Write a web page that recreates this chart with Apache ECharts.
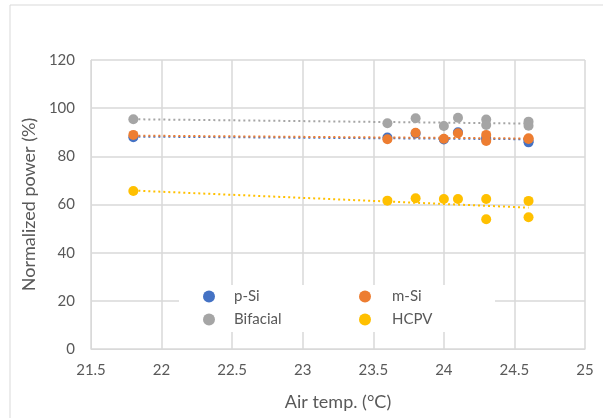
<!DOCTYPE html>
<html>
<head>
<meta charset="UTF-8">
<script src="https://cdn.jsdelivr.net/npm/echarts@6/dist/echarts.min.js"></script>
<style>
html, body { margin: 0; padding: 0; background: #fff; }
#chart { width: 603px; height: 418px; }
</style>
</head>
<body>
<div id="chart"></div>
<script>
// values
var temps     = [21.8, 23.6, 23.8, 24.0, 24.1, 24.3, 24.3, 24.6, 24.6];
var pSi       = [87.9, 87.8, 89.5, 87.0, 90.0, 87.6, 87.0, 85.8, 86.4];
var mSi       = [88.9, 87.1, 89.8, 87.3, 89.6, 88.9, 86.4, 87.5, 87.2];
var bifacial  = [95.4, 93.7, 95.8, 92.6, 96.0, 95.3, 93.0, 94.4, 92.7];
var hcpv      = [65.6, 61.6, 62.6, 62.3, 62.3, 62.3, 53.9, 61.5, 54.7];

// dotted trend lines, end points
var trendX        = [21.8, 24.6];
var trendPSi      = [88.2, 87.1];
var trendMSi      = [88.6, 87.4];
var trendBifacial = [95.4, 93.6];
var trendHcpv     = [65.8, 58.7];

var xTicks = [21.5, 25, 0.5];   // min, max, step
var yTicks = [0, 120, 20];

var colors = { pSi: '#4472C4', mSi: '#ED7D31', bif: '#A5A5A5', hcpv: '#FFC000' };
var txt = '#595959';
var font = 'Lato, "Open Sans", sans-serif';

function pts(xs, ys) {
    var out = [];
    for (var i = 0; i < xs.length; i++) out.push([xs[i], ys[i]]);
    return out;
}
function scatter(name, ys, color) {
    return { name: name, type: 'scatter', data: pts(temps, ys), symbolSize: 10,
             itemStyle: { color: color, opacity: 1 }, z: 3 };
}
function trend(ys, color) {
    return { type: 'line', data: pts(trendX, ys), symbol: 'none', silent: true,
             lineStyle: { color: color, width: 2, type: [2, 3] }, z: 2 };
}

var chart = echarts.init(document.getElementById('chart'));
var option = {
    animation: false,
    textStyle: { fontFamily: font },
    grid: { left: 91, right: 18, top: 60, bottom: 69 },
    graphic: [
        { type: 'rect', shape: { x: 10, y: 5, width: 620, height: 440 },
          style: { fill: 'none', stroke: '#D9D9D9', lineWidth: 1 }, z: 0 },
        { type: 'rect', shape: { x: 179, y: 285, width: 316, height: 47 },
          style: { fill: '#fff' }, z: 50 }
    ],
    legend: [
        { data: ['p-Si', 'Bifacial'], orient: 'vertical', left: 198, top: 284,
          itemGap: 8, itemWidth: 12, itemHeight: 12, icon: 'circle', z: 60,
          textStyle: { color: txt, fontSize: 15, fontFamily: font, padding: [0, 0, 0, 14] } },
        { data: ['m-Si', 'HCPV'], orient: 'vertical', left: 354, top: 284,
          itemGap: 8, itemWidth: 12, itemHeight: 12, icon: 'circle', z: 60,
          textStyle: { color: txt, fontSize: 15, fontFamily: font, padding: [0, 0, 0, 16] } }
    ],
    xAxis: {
        type: 'value', min: xTicks[0], max: xTicks[1], interval: xTicks[2],
        name: 'Air temp. (°C)', nameLocation: 'middle', nameGap: 44,
        nameTextStyle: { color: txt, fontSize: 18, fontFamily: font },
        axisLine: { show: true, lineStyle: { color: '#D9D9D9' } },
        axisTick: { show: false },
        axisLabel: { color: txt, fontSize: 15, margin: 14, fontFamily: font },
        splitLine: { show: true, lineStyle: { color: '#D9D9D9', width: 1.5 } }
    },
    yAxis: {
        type: 'value', min: yTicks[0], max: yTicks[1], interval: yTicks[2],
        name: 'Normalized power (%)', nameLocation: 'middle', nameGap: 51,
        nameTextStyle: { color: txt, fontSize: 18, fontFamily: font },
        axisLine: { show: true, lineStyle: { color: '#D9D9D9' } },
        axisTick: { show: false },
        axisLabel: { color: txt, fontSize: 15, margin: 16, fontFamily: font },
        splitLine: { show: true, lineStyle: { color: '#D9D9D9', width: 1.5 } }
    },
    series: [
        trend(trendPSi, colors.pSi),
        trend(trendMSi, colors.mSi),
        trend(trendBifacial, colors.bif),
        trend(trendHcpv, colors.hcpv),
        scatter('p-Si', pSi, colors.pSi),
        scatter('m-Si', mSi, colors.mSi),
        scatter('Bifacial', bifacial, colors.bif),
        scatter('HCPV', hcpv, colors.hcpv)
    ]
};
chart.setOption(option);
</script>
</body>
</html>
